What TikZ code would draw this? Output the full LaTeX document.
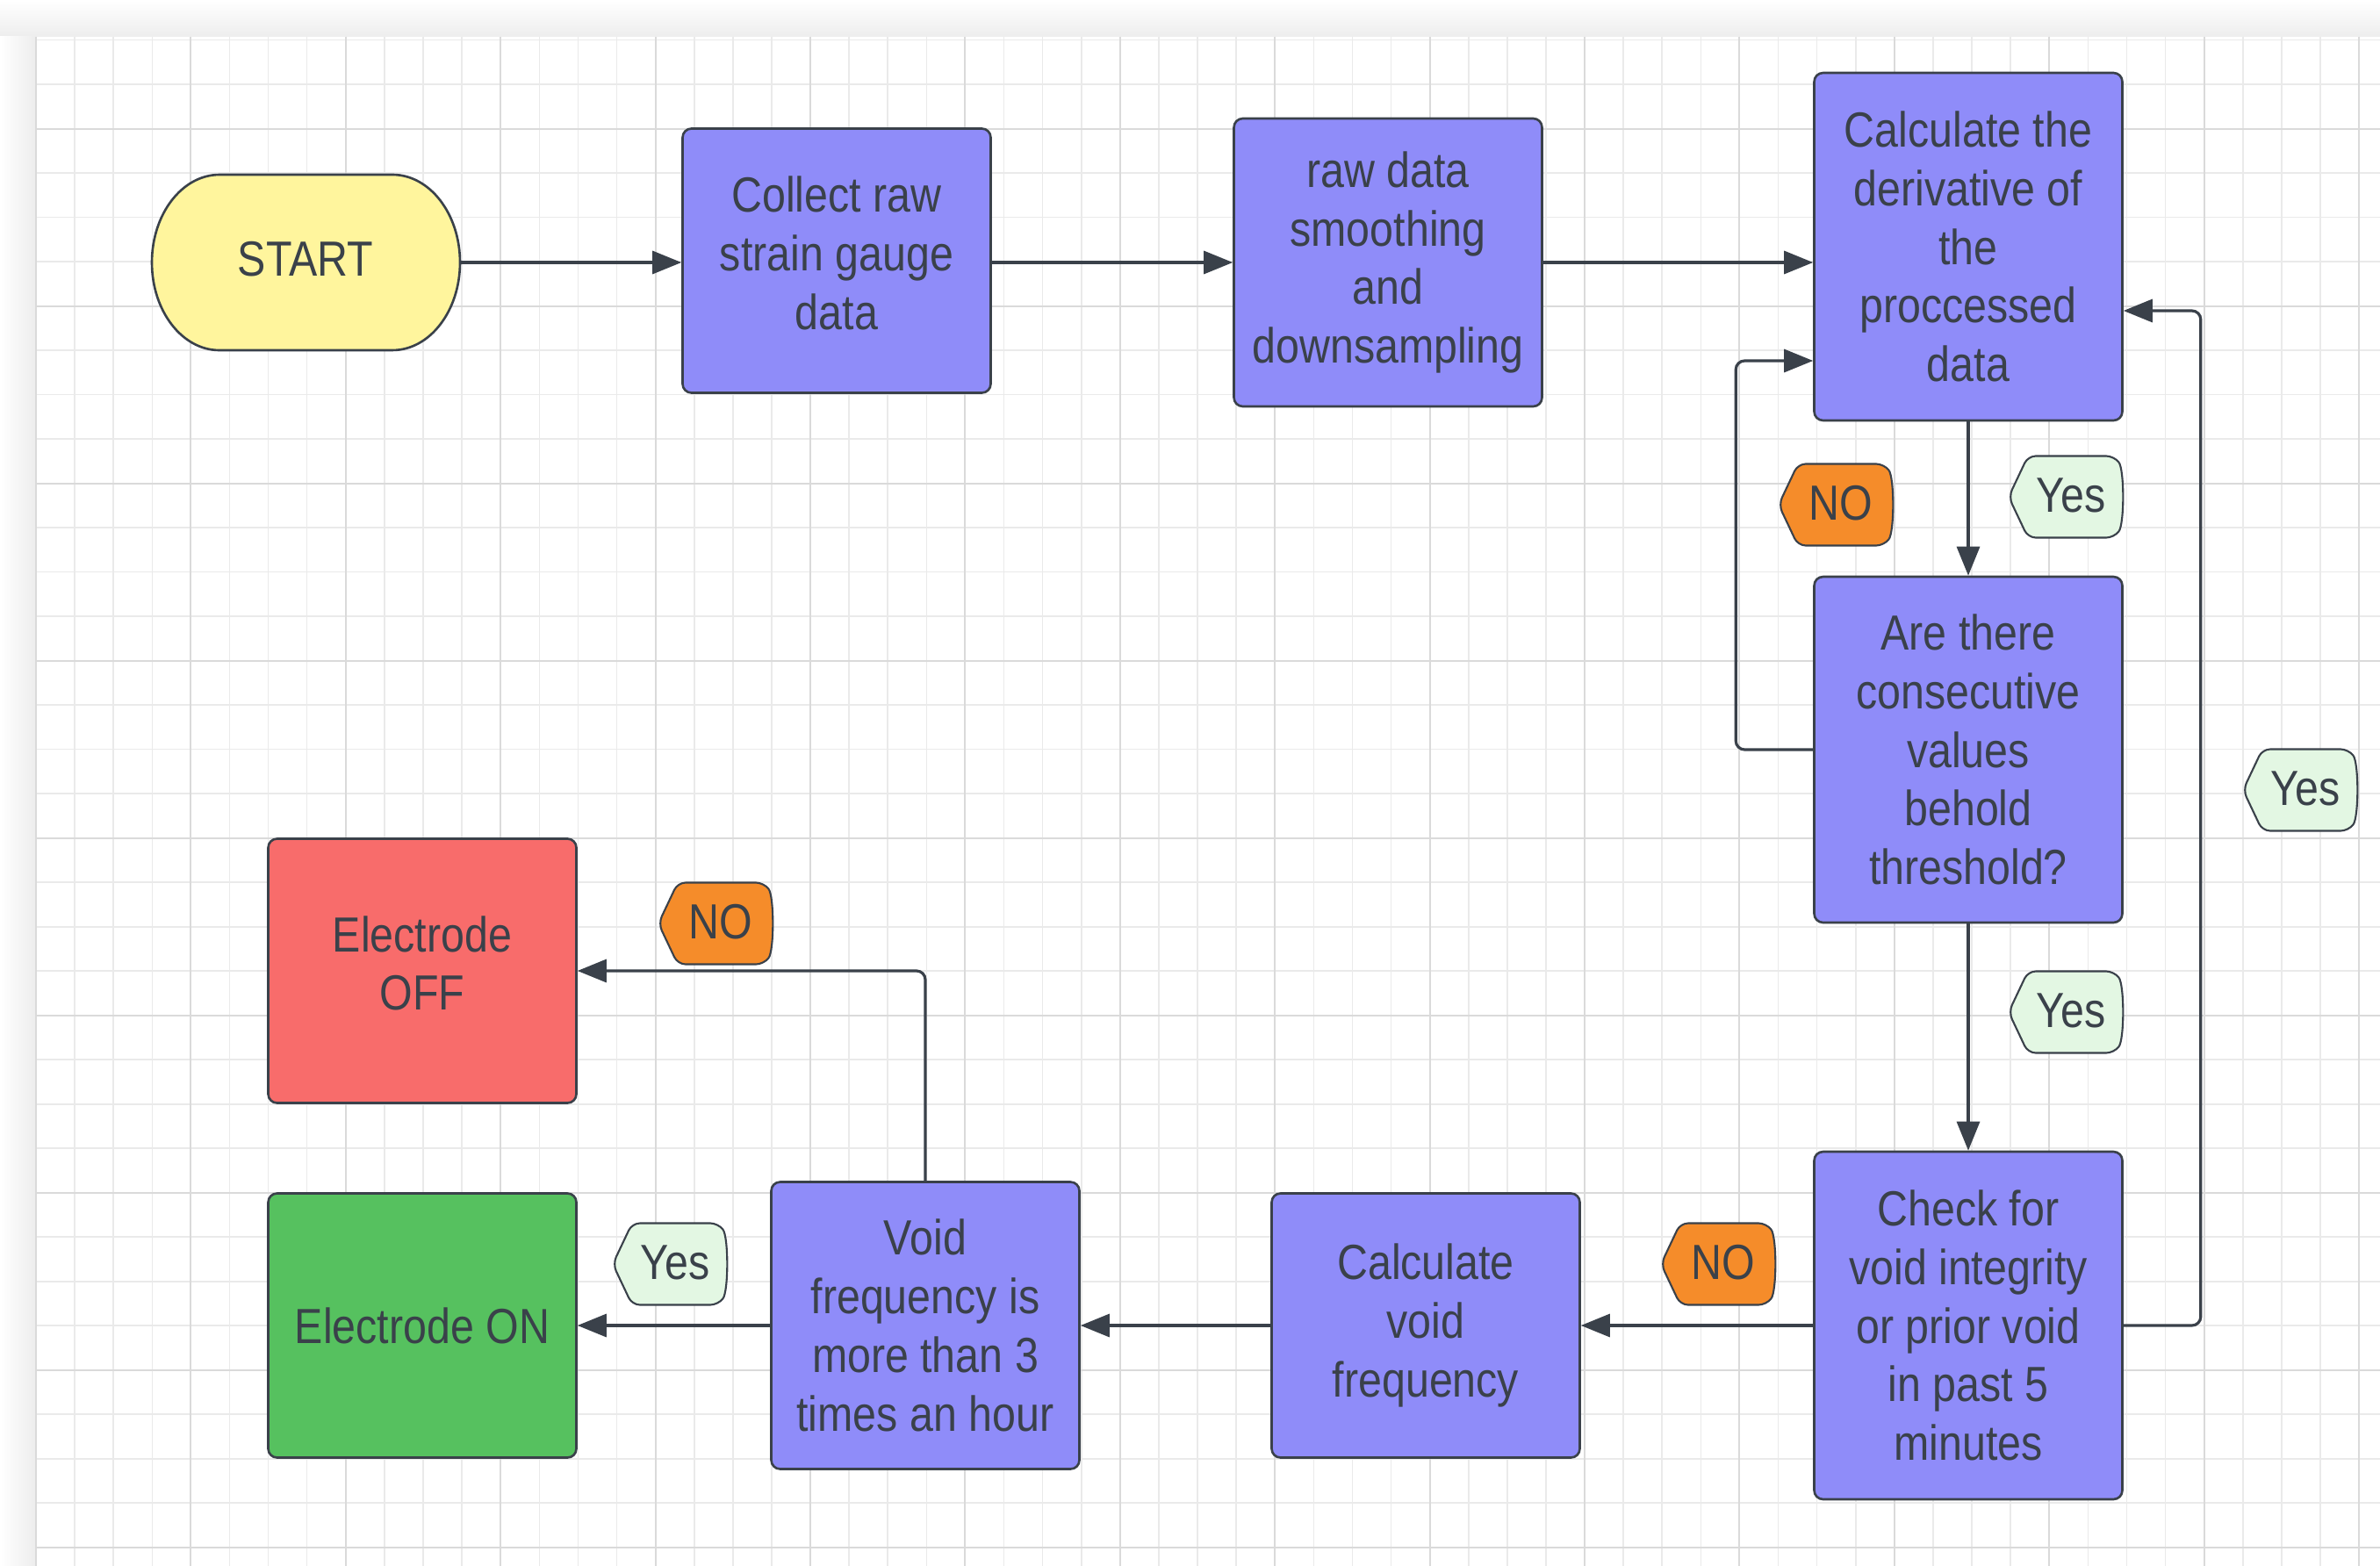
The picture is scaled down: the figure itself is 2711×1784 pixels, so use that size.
\documentclass[tikz,border=0pt]{standalone}
\usepackage{fontspec}
\setmainfont{Liberation Sans}[FakeStretch=0.86]
\usetikzlibrary{arrows.meta,calc}
\definecolor{ink}{RGB}{58,65,74}
\definecolor{boxpurple}{RGB}{143,140,249}
\definecolor{startyellow}{RGB}{255,245,157}
\definecolor{offred}{RGB}{248,108,107}
\definecolor{ongreen}{RGB}{86,193,95}
\definecolor{noorange}{RGB}{245,140,42}
\definecolor{yesgreen}{RGB}{227,247,227}
\definecolor{gridminor}{RGB}{234,234,234}
\definecolor{gridmajor}{RGB}{218,218,218}
\newcommand\tagat[5]{%
  \begin{scope}[shift={(#2,#3)}, x=1cm, y=1cm]
    \draw[draw=ink, line width=1.2pt, fill=#4, rounded corners=5pt]
      (-1.3,0) -- (-0.86,0.93) -- (1.1,0.93)
      .. controls (1.34,0.62) and (1.34,-0.62) .. (1.1,-0.93)
      -- (-0.86,-0.93) -- cycle;
  \end{scope}
  \node[taglbl] (#1) at ($(#2,#3)+(6,-2)$) {#5};%
}
\begin{document}
\begin{tikzpicture}[x=0.02cm, y=-0.02cm,
  txt/.style={text=ink, font=\fontsize{32pt}{38pt}\selectfont, align=center, inner sep=0pt},
  box/.style={txt, draw=ink, line width=1.5pt, rounded corners=0.2cm, fill=boxpurple,
              minimum width=7.02cm},
  taglbl/.style={txt},
  conn/.style={draw=ink, line width=1.8pt, -{Triangle[length=0.66cm,width=0.52cm]}},
  elbow/.style={rounded corners=0.2cm}]
\useasboundingbox (0,0) rectangle (2711,1784);
% background
\fill[white] (0,0) rectangle (2711,1784);
\shade[top color=white, bottom color=gray!14] (0,0) rectangle (2711,42);
\shade[left color=white, right color=gray!14] (0,42) rectangle (40,1784);
% grid
\foreach \k in {0,...,60} {
  \pgfmathsetmacro\xx{41+44.1*\k}
  \draw[gridminor, line width=0.9pt] (\xx,42) -- (\xx,1784);
}
\foreach \k in {-2,...,32} {
  \pgfmathsetmacro\yy{146.7+50.5*\k}
  \draw[gridminor, line width=0.9pt] (41,\yy) -- (2711,\yy);
}
\foreach \k in {0,4,...,60} {
  \pgfmathsetmacro\xx{41+44.1*\k}
  \draw[gridmajor, line width=1.1pt] (\xx,42) -- (\xx,1784);
}
\foreach \k in {0,4,...,32} {
  \pgfmathsetmacro\yy{146.7+50.5*\k}
  \draw[gridmajor, line width=1.1pt] (41,\yy) -- (2711,\yy);
}
% START terminator
\draw[draw=ink, line width=1.5pt, fill=startyellow]
  (250,199) -- (447,199)
  arc[start angle=90, end angle=-90, x radius=1.54cm, y radius=2cm]
  -- (250,399)
  arc[start angle=270, end angle=90, x radius=1.54cm, y radius=2cm] -- cycle;
\node[txt, minimum width=7.02cm, minimum height=4cm] (start) at (348,295) {START};
% process boxes
\node[box, minimum height=6.02cm] (collect) at (953,297) {Collect raw\\strain gauge\\data\\[-28pt]};
\node[box, minimum height=6.56cm] (smooth) at (1581,299) {raw data\\smoothing\\and\\downsampling};
\node[box, minimum height=7.92cm] (deriv) at (2242,281) {Calculate the\\derivative of\\the\\proccessed\\data};
\node[box, minimum height=7.88cm] (thresh) at (2242,854) {Are there\\consecutive\\values\\behold\\threshold?};
\node[box, minimum height=7.92cm] (check) at (2242,1510) {Check for\\void integrity\\or prior void\\in past 5\\minutes};
\node[box, minimum height=6.02cm] (vcalc) at (1624,1510) {Calculate\\void\\frequency};
\node[box, minimum height=6.54cm] (vfreq) at (1054,1510) {Void\\frequency is\\more than 3\\times an hour};
\node[box, fill=ongreen, minimum height=6.02cm] (eon) at (481,1510) {Electrode ON};
\node[box, fill=offred, minimum height=6.02cm] (eoff) at (481,1106) {Electrode\\OFF\\[-28pt]};
% helper coordinates
\coordinate (dl) at ($(deriv.west)+(0,130)$);
\coordinate (dr) at ($(deriv.east)+(0,73)$);
% connectors
\draw[conn] (start.east |- 0,299) -- (collect.west |- 0,299);
\draw[conn] (collect.east |- 0,299) -- (smooth.west |- 0,299);
\draw[conn] (smooth.east) -- (smooth.east -| deriv.west);
\draw[conn] (deriv) -- (thresh);
\draw[conn] (thresh) -- (check);
\draw[conn, elbow] (thresh.west) -- ($(thresh.west)+(-88,0)$) |- (dl);
\draw[conn, elbow] (check.east) -- ($(check.east)+(88,0)$) |- (dr);
\draw[conn] (check) -- (vcalc);
\draw[conn] (vcalc) -- (vfreq);
\draw[conn] (vfreq) -- (eon);
\draw[conn, elbow] (vfreq.north) |- (eoff.east);
% labels
\tagat{noA}{2091}{575}{noorange}{NO}
\tagat{yesA}{2353}{566}{yesgreen}{Yes}
\tagat{yesB}{2620}{900}{yesgreen}{Yes}
\tagat{yesC}{2353}{1153}{yesgreen}{Yes}
\tagat{noB}{1957}{1440}{noorange}{NO}
\tagat{noC}{815}{1052}{noorange}{NO}
\tagat{yesD}{763}{1440}{yesgreen}{Yes}
\end{tikzpicture}
\end{document}
